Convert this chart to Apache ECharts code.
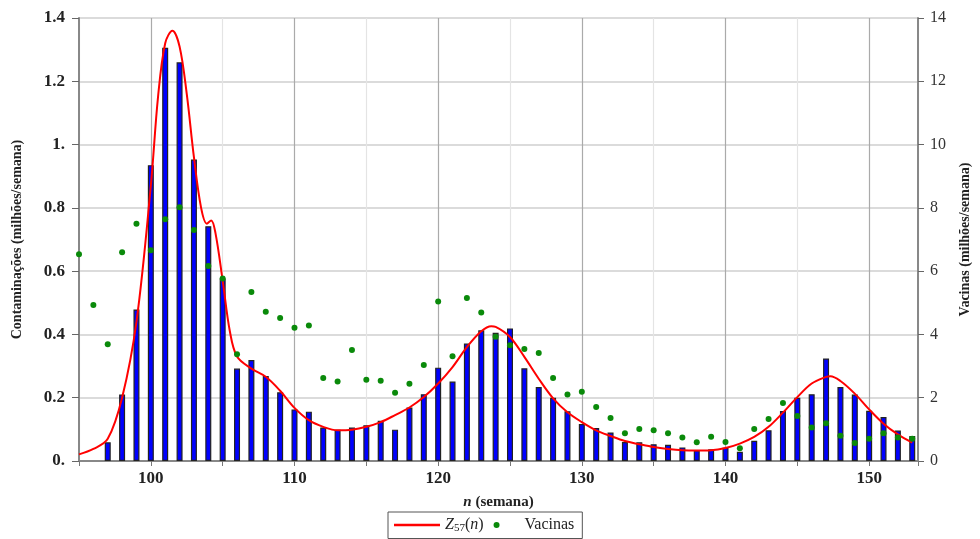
<!DOCTYPE html>
<html>
<head>
<meta charset="utf-8">
<script src="https://cdn.jsdelivr.net/npm/echarts@6/dist/echarts.min.js"></script>
<style>
  html, body { margin: 0; padding: 0; background: #fff; }
  #chart { width: 980px; height: 539px; }
</style>
</head>
<body>
<div id="chart"></div>
<script>
// semanas (n)
const weeks = [95, 96, 97, 98, 99, 100, 101, 102, 103, 104,
  105, 106, 107, 108, 109, 110, 111, 112, 113, 114,
  115, 116, 117, 118, 119, 120, 121, 122, 123, 124,
  125, 126, 127, 128, 129, 130, 131, 132, 133, 134,
  135, 136, 137, 138, 139, 140, 141, 142, 143, 144,
  145, 146, 147, 148, 149, 150, 151, 152, 153];

// contaminações (milhões/semana) - barras
const contaminacoes = [null, null, 0.059, 0.21, 0.479, 0.935, 1.306, 1.26, 0.953, 0.742,
  0.577, 0.292, 0.319, 0.269, 0.217, 0.163, 0.156, 0.106, 0.099, 0.106,
  0.113, 0.127, 0.099, 0.169, 0.211, 0.295, 0.251, 0.371, 0.413, 0.405,
  0.419, 0.293, 0.234, 0.2, 0.157, 0.117, 0.104, 0.09, 0.06, 0.059,
  0.053, 0.051, 0.043, 0.034, 0.037, 0.042, 0.029, 0.064, 0.097, 0.158,
  0.2, 0.211, 0.324, 0.234, 0.21, 0.159, 0.139, 0.096, 0.079];

// vacinas (milhões/semana) - pontos, eixo direito
const vacinas = [6.53, 4.93, 3.69, 6.6, 7.5, 6.66, 7.64, 8.02, 7.3, 6.16,
  5.77, 3.37, 5.34, 4.72, 4.52, 4.21, 4.28, 2.62, 2.51, 3.51,
  2.57, 2.54, 2.16, 2.44, 3.03, 5.04, 3.31, 5.15, 4.69, 3.93,
  3.66, 3.54, 3.41, 2.62, 2.1, 2.19, 1.71, 1.36, 0.88, 1.01,
  0.97, 0.88, 0.74, 0.59, 0.77, 0.6, 0.4, 1.01, 1.33, 1.83,
  1.42, 1.06, 1.19, 0.8, 0.57, 0.7, 0.88, 0.74, 0.7];

// curva Z57(n)
const zWeeks = [95, 96, 97, 98, 99, 100, 100.5, 101, 101.5, 102, 102.5, 103, 103.5, 103.9, 104.2, 104.5,
  105, 105.5, 106, 107, 108, 109, 110, 111, 112, 113, 114, 115, 116, 117, 118, 119, 120,
  121, 122, 123, 123.7, 124, 125, 126, 127, 128, 129, 130, 131, 132, 133, 134, 135, 136,
  137, 138, 139, 140, 141, 142, 143, 144, 145, 146, 147, 147.3, 148, 149, 150, 151, 152, 153];
const zValues = [0.021, 0.038, 0.07, 0.2, 0.44, 0.87, 1.15, 1.32, 1.36, 1.31, 1.16, 0.96, 0.8, 0.75, 0.76, 0.72,
  0.57, 0.41, 0.33, 0.292, 0.266, 0.222, 0.168, 0.129, 0.108, 0.097, 0.099, 0.108, 0.123, 0.145, 0.169, 0.202, 0.245,
  0.297, 0.36, 0.41, 0.426, 0.424, 0.392, 0.329, 0.26, 0.198, 0.154, 0.123, 0.097, 0.079, 0.063, 0.053, 0.044, 0.038,
  0.034, 0.033, 0.034, 0.041, 0.055, 0.076, 0.108, 0.153, 0.202, 0.245, 0.266, 0.268, 0.253, 0.213, 0.163, 0.118, 0.084, 0.058];

const barData = weeks.map((w, i) => [w, contaminacoes[i]]).filter(d => d[1] !== null);
const dotData = weeks.map((w, i) => [w, vacinas[i]]);
const lineData = zWeeks.map((w, i) => [w, zValues[i]]);

const serif = "Liberation Serif";
const chart = echarts.init(document.getElementById("chart"));

chart.setOption({
  backgroundColor: "#fff",
  animation: false,
  grid: { left: 79, right: 52, top: 18, bottom: 78 },
  legend: {
    left: 388,
    top: 512,
    padding: [5, 8, 5, 6],
    borderColor: "#555",
    borderWidth: 1,
    itemWidth: 46,
    itemHeight: 6,
    itemGap: 10,
    textStyle: {
      fontFamily: serif,
      fontSize: 16,
      color: "#222",
      rich: {
        i: { fontFamily: serif, fontSize: 16, fontStyle: "italic", color: "#222" },
        sub: { fontFamily: serif, fontSize: 11, color: "#222", verticalAlign: "bottom", padding: [6, 0, 0, 0] }
      }
    },
    formatter: name => name === "Z57(n)" ? "{i|Z}{sub|57}({i|n})" : name,
    data: [
      { name: "Z57(n)", icon: "path://M0,0H46V2.5H0Z" },
      { name: "Vacinas", icon: "circle" }
    ]
  },
  xAxis: {
    type: "value",
    min: 95,
    max: 153.4,
    interval: 5,
    name: "{i|n} (semana)",
    nameLocation: "middle",
    nameGap: 34,
    nameTextStyle: {
      fontFamily: serif,
      fontSize: 15,
      fontWeight: "bold",
      color: "#222",
      rich: {
        i: { fontFamily: serif, fontSize: 15, fontWeight: "bold", fontStyle: "italic", color: "#222" }
      }
    },
    axisLine: { onZero: false, lineStyle: { color: "#888", width: 2 } },
    axisTick: { length: 5, lineStyle: { color: "#777" } },
    axisLabel: {
      margin: 9,
      fontFamily: serif,
      fontSize: 17,
      fontWeight: "bold",
      color: "#222",
      formatter: v => (v % 10 === 0 ? String(v) : "")
    },
    splitLine: {
      show: true,
      lineStyle: { color: ["#e4e4e4", "#aaa"], width: 1.2 }
    }
  },
  yAxis: [
    {
      type: "value",
      min: 0,
      max: 1.4,
      interval: 0.2,
      name: "Contaminações (milhões/semana)",
      nameLocation: "middle",
      nameGap: 55,
      nameTextStyle: { fontFamily: serif, fontSize: 14, fontWeight: "bold", color: "#222" },
      axisLine: { show: true, lineStyle: { color: "#888", width: 2 } },
      axisTick: { show: true, length: 7, lineStyle: { color: "#666" } },
      axisLabel: {
        margin: 14,
        fontFamily: serif,
        fontSize: 17,
        fontWeight: "bold",
        color: "#222",
        formatter: v => {
          const s = v.toFixed(1);
          return s.endsWith(".0") ? s.slice(0, -1) : s;
        }
      },
      splitLine: { show: true, lineStyle: { color: "#cfcfcf", width: 1.5 } }
    },
    {
      type: "value",
      min: 0,
      max: 14,
      interval: 2,
      name: "Vacinas (milhões/semana)",
      nameLocation: "middle",
      nameGap: 40,
      nameRotate: 90,
      nameTextStyle: { fontFamily: serif, fontSize: 14, fontWeight: "bold", color: "#222" },
      axisLine: { show: true, lineStyle: { color: "#888", width: 2 } },
      axisTick: { show: true, length: 6, lineStyle: { color: "#666" } },
      axisLabel: { margin: 12, fontFamily: serif, fontSize: 16, color: "#333" },
      splitLine: { show: false }
    }
  ],
  series: [
    {
      name: "Contaminações",
      type: "bar",
      yAxisIndex: 0,
      data: barData,
      barWidth: 6,
      itemStyle: { color: "#0000ff", borderColor: "#222", borderWidth: 1.2 },
      z: 2
    },
    {
      name: "Z57(n)",
      type: "line",
      yAxisIndex: 0,
      data: lineData,
      smooth: 0.35,
      symbol: "none",
      lineStyle: { color: "#ff0000", width: 2 },
      itemStyle: { color: "#ff0000" },
      z: 3
    },
    {
      name: "Vacinas",
      type: "scatter",
      yAxisIndex: 1,
      data: dotData,
      symbolSize: 6,
      itemStyle: { color: "#0a8a0a", opacity: 1 },
      z: 4
    }
  ]
});
</script>
</body>
</html>
